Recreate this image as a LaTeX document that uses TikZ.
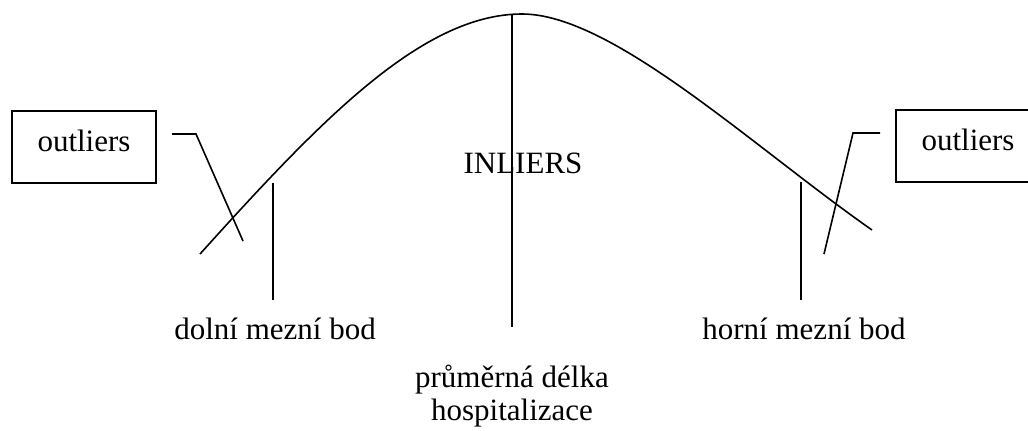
\documentclass[tikz,border=0pt]{standalone}
\usepackage{fontspec}
\setmainfont{Liberation Serif}
\begin{document}
\begin{tikzpicture}[x=1pt,y=-1pt,
  ln/.style={line width=1.6pt,black},
  lbl/.style={font=\fontsize{31}{33}\selectfont,inner sep=0pt,anchor=base},
  obox/.style={draw,line width=1.6pt,font=\fontsize{31}{33}\selectfont,inner sep=0pt,
    minimum width=144pt,minimum height=72pt,text height=20pt,text depth=12pt}]
\useasboundingbox (0,0) rectangle (1028,431);
% curve
\coordinate (cs) at (200,254);
\coordinate (cp) at (522,14);
\coordinate (ce) at (872,230);
\draw[ln] (cs) .. controls (320,121) and (422,14) .. (cp)
               .. controls (612,14) and (752,146) .. (ce);
% vertical lines
\coordinate (ctop) at (512,14);
\coordinate (cbot) at (512,327);
\coordinate (ltop) at (273,183);
\coordinate (lbot) at (273,300);
\coordinate (rtop) at (801,182);
\coordinate (rbot) at (801,300);
\draw[ln] (ctop) -- (cbot);
\draw[ln] (ltop) -- (lbot);
\draw[ln] (rtop) -- (rbot);
% boxes
\node[obox] (lbox) at (84,147) {outliers};
\node[obox] (rbox) at (968,146) {outliers};
% callouts
\coordinate (la) at (172,134);
\coordinate (lb) at (196,134);
\coordinate (lc) at (243,241);
\coordinate (ra) at (880,133);
\coordinate (rb) at (853,133);
\coordinate (rc) at (824,254);
\draw[ln] (la) -- (lb) -- (lc);
\draw[ln] (ra) -- (rb) -- (rc);
% labels
\node[lbl] (inl) at (523,173) {INLIERS};
\node[lbl] (dmb) at (275,339) {dolní mezní bod};
\node[lbl] (hmb) at (804,339) {horní mezní bod};
\node[lbl] (pd1) at (512,387) {průměrná délka};
\node[lbl] (pd2) at (512,420) {hospitalizace};
\end{tikzpicture}
\end{document}
